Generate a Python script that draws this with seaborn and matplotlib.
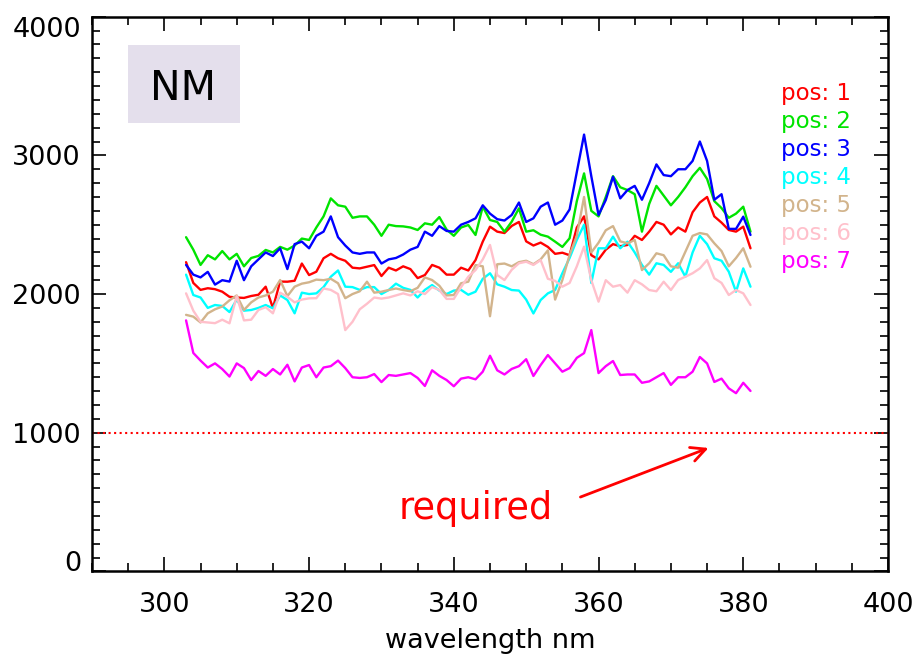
import matplotlib
matplotlib.use("Agg")
import matplotlib.pyplot as plt
from matplotlib.ticker import MultipleLocator
from matplotlib.patches import Rectangle
import pandas as pd
import seaborn as sns

# Spectra sampled every 1 nm from 303 to 381 nm
wavelength = list(range(303, 382))

pos_1 = [2230, 2080, 2030, 2042, 2035, 2017, 1980, 1975, 1972, 1986, 1995, 2053, 1900, 2090, 2089, 2096, 2220, 2137, 2161, 2258, 2290, 2258,
         2240, 2190, 2185, 2197, 2209, 2130, 2190, 2170, 2200, 2180, 2115, 2137, 2210, 2190, 2140, 2140, 2190, 2170, 2245, 2378, 2486,
         2450, 2440, 2491, 2520, 2380, 2350, 2371, 2340, 2290, 2298, 2280, 2480, 2560, 2280, 2250, 2320, 2360, 2345, 2354, 2420, 2390,
         2450, 2520, 2500, 2430, 2480, 2450, 2590, 2660, 2700, 2560, 2515, 2462, 2450, 2486, 2330]
pos_2 = [2410, 2320, 2210, 2280, 2250, 2310, 2250, 2290, 2200, 2260, 2275, 2318, 2300, 2340, 2320, 2350, 2400, 2390, 2480, 2560, 2690, 2640,
         2630, 2550, 2560, 2560, 2500, 2420, 2500, 2490, 2488, 2480, 2462, 2510, 2500, 2555, 2465, 2420, 2480, 2498, 2426, 2630, 2534,
         2520, 2450, 2522, 2618, 2450, 2460, 2428, 2414, 2378, 2340, 2402, 2670, 2870, 2600, 2560, 2700, 2850, 2770, 2750, 2720, 2450,
         2650, 2780, 2710, 2640, 2700, 2770, 2850, 2910, 2830, 2670, 2620, 2550, 2580, 2630, 2450]
pos_3 = [2210, 2140, 2120, 2160, 2068, 2100, 2090, 2240, 2100, 2200, 2250, 2300, 2274, 2330, 2180, 2360, 2378, 2330, 2420, 2450, 2560, 2410,
         2350, 2300, 2290, 2300, 2300, 2220, 2250, 2260, 2285, 2320, 2340, 2450, 2420, 2490, 2455, 2450, 2500, 2520, 2546, 2640, 2580,
         2540, 2530, 2570, 2660, 2520, 2546, 2630, 2660, 2500, 2530, 2610, 2880, 3150, 2850, 2570, 2678, 2846, 2690, 2750, 2780, 2680,
         2800, 2935, 2858, 2850, 2900, 2900, 2960, 3100, 2960, 2680, 2720, 2470, 2470, 2558, 2426]
pos_4 = [2140, 1993, 1975, 1900, 1921, 1914, 1870, 1960, 1880, 1885, 1900, 1921, 1897, 1990, 1957, 1861, 2010, 2000, 2005, 2050, 2125, 2170,
         2053, 2050, 2030, 2050, 2050, 2000, 2029, 2075, 2045, 2030, 1975, 2030, 2065, 2025, 2000, 2025, 2030, 1995, 2017, 2110, 2150,
         2070, 2053, 2029, 2025, 1960, 1860, 1957, 2005, 2029, 2150, 2260, 2390, 2500, 2080, 2330, 2330, 2414, 2330, 2378, 2300, 2210,
         2140, 2222, 2210, 2160, 2222, 2125, 2300, 2420, 2360, 2258, 2240, 2161, 2017, 2185, 2053]
pos_5 = [1850, 1837, 1795, 1861, 1890, 1910, 1955, 1990, 1885, 1940, 1975, 1990, 2017, 2101, 1985, 2053, 2075, 2085, 2104, 2100, 2110, 2078,
         1970, 2000, 2020, 2089, 2010, 2017, 2029, 2040, 2029, 2020, 2045, 2120, 2101, 2060, 1990, 1993, 2078, 2089, 2209, 2200, 1840,
         2215, 2220, 2200, 2230, 2240, 2215, 2250, 2315, 1960, 2101, 2282, 2420, 2700, 2300, 2370, 2460, 2490, 2380, 2366, 2390, 2173,
         2222, 2294, 2280, 2200, 2190, 2305, 2420, 2440, 2430, 2366, 2310, 2200, 2260, 2330, 2197]
pos_6 = [2005, 1880, 1800, 1795, 1790, 1815, 1789, 1985, 1810, 1815, 1885, 1905, 1861, 2010, 1980, 1940, 1960, 1969, 1970, 2040, 2030, 2000,
         1740, 1800, 1890, 1930, 1975, 1967, 1975, 1990, 2005, 1990, 2020, 2000, 2050, 2029, 1965, 1965, 2050, 2125, 2173, 2250, 2354,
         2137, 2101, 2175, 2222, 2233, 2210, 2245, 2110, 2095, 2053, 2080, 2200, 2342, 2100, 1945, 2100, 2053, 2065, 2010, 2100, 2070,
         2029, 2020, 2089, 2029, 2101, 2125, 2150, 2185, 2245, 2114, 2080, 1993, 2029, 2005, 1921]
pos_7 = [1810, 1575, 1520, 1470, 1500, 1459, 1405, 1500, 1466, 1380, 1445, 1410, 1459, 1420, 1490, 1370, 1470, 1488, 1400, 1470, 1480, 1520,
         1466, 1400, 1395, 1400, 1423, 1365, 1416, 1410, 1420, 1430, 1395, 1337, 1450, 1410, 1380, 1335, 1390, 1400, 1385, 1440, 1555,
         1450, 1420, 1460, 1480, 1530, 1409, 1488, 1560, 1500, 1440, 1466, 1540, 1574, 1740, 1430, 1480, 1517, 1416, 1420, 1420, 1360,
         1370, 1400, 1430, 1345, 1400, 1400, 1440, 1546, 1500, 1366, 1390, 1320, 1285, 1360, 1301]

series_values = [pos_1, pos_2, pos_3, pos_4, pos_5, pos_6, pos_7]
series_labels = ["pos: 1", "pos: 2", "pos: 3", "pos: 4", "pos: 5", "pos: 6", "pos: 7"]
series_colors = ["#ff0000", "#00e400", "#0000ff", "#00ffff", "#d2b48c", "#ffc0cb", "#ff00ff"]

required_level = 1000
x_ticks = [300, 320, 340, 360, 380, 400]
y_ticks = [0, 1000, 2000, 3000, 4000]

sns.set_style("white")
plt.rcParams["font.family"] = ["DejaVu Sans"]
plt.rcParams["text.color"] = "black"
plt.rcParams["axes.labelcolor"] = "black"
plt.rcParams["xtick.color"] = "black"
plt.rcParams["ytick.color"] = "black"

frames = [pd.DataFrame({"wavelength": wavelength, "counts": vals, "position": lab})
          for lab, vals in zip(series_labels, series_values)]
df = pd.concat(frames, ignore_index=True)

fig = plt.figure(figsize=(9.2, 6.61), dpi=100)
ax = fig.add_axes([0.1, 0.1356, 0.8652, 0.8391])

sns.lineplot(data=df, x="wavelength", y="counts", hue="position",
             hue_order=series_labels, palette=dict(zip(series_labels, series_colors)),
             estimator=None, sort=False, linewidth=1.7, ax=ax)

# requirement threshold
ax.axhline(required_level, color="#ff0000", linestyle=":", linewidth=1.5, zorder=1)

ax.set_xlim(290, 400)
ax.set_ylim(0, 4000)
ax.set_xticks(x_ticks)
ax.set_xticklabels([str(v) for v in x_ticks])
ax.set_yticks(y_ticks)
ax.set_yticklabels([str(v) for v in y_ticks])
ax.xaxis.set_minor_locator(MultipleLocator(5))
ax.yaxis.set_minor_locator(MultipleLocator(100))
ax.tick_params(which="both", direction="in", top=True, right=True,
               bottom=True, left=True, width=1.2, color="black",
               labelcolor="black")
ax.tick_params(which="major", length=10)
ax.tick_params(which="minor", length=5.5)
ax.tick_params(axis="x", which="major", labelsize=19.5, pad=15)
ax.tick_params(axis="y", which="major", labelsize=19.5, pad=8)

ylabels = ax.get_yticklabels()
ylabels[0].set_va("baseline")
ylabels[-1].set_va("top")

for spine in ax.spines.values():
    spine.set_linewidth(1.8)
    spine.set_color("black")

ax.set_xlabel("wavelength nm", fontsize=19.5, labelpad=7, color="black")
ax.set_ylabel("")

# colored text legend, no line handles
leg = ax.legend(loc="upper left", bbox_to_anchor=(0.866, 0.882), frameon=False,
                handlelength=0, handletextpad=0, labelcolor="linecolor",
                fontsize=16.5, labelspacing=0.22, borderaxespad=0, borderpad=0)
for h in leg.legend_handles:
    h.set_visible(False)

# sample label box
ax.add_patch(Rectangle((0.0452, 0.8084), 0.1407, 0.1406, transform=ax.transAxes,
                       facecolor="#e4dfec", edgecolor="none", zorder=3))
ax.text(0.1143, 0.8498, "NM", transform=ax.transAxes, fontsize=29.5,
        ha="center", va="baseline", color="black", zorder=4)

# annotation pointing at the threshold
ax.text(343.0, 378, "required", color="#ff0000", fontsize=26.5,
        ha="center", va="baseline")
ax.annotate("", xy=(375.2, 890), xytext=(357.5, 536),
            arrowprops=dict(arrowstyle="->", color="#ff0000", lw=2,
                            mutation_scale=26, shrinkA=0, shrinkB=0))

fig.savefig("out.png", dpi=100, facecolor="white")
